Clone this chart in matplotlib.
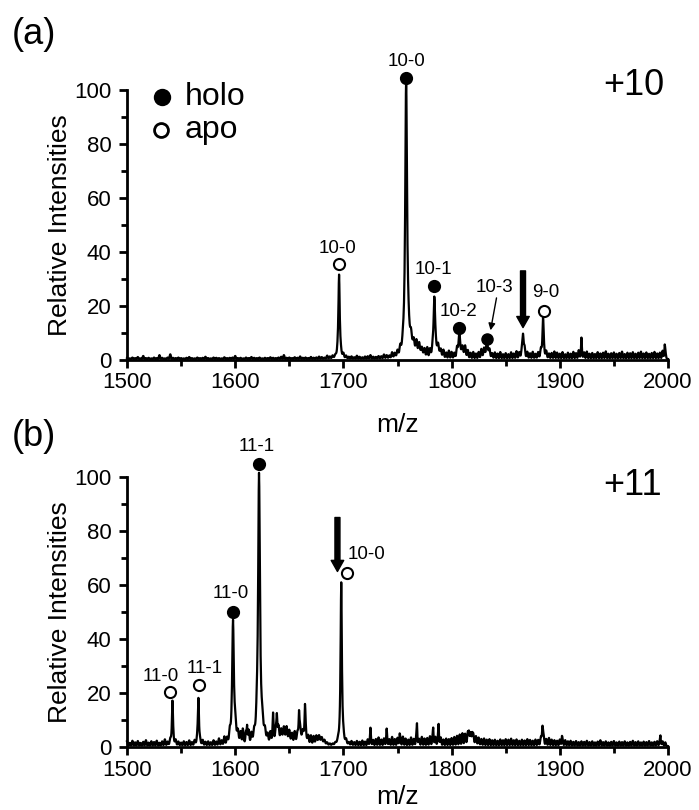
import numpy as np
import matplotlib
matplotlib.use("Agg")
import matplotlib.pyplot as plt
from matplotlib.ticker import MultipleLocator

plt.rcParams['font.family'] = ['Liberation Sans', 'DejaVu Sans']

# ---------------- data ----------------
# panel (a): +10 charge state
a_peak_mz = [1696.0, 1758.0, 1784.0, 1807.0, 1833.0, 1866.0, 1884.5, 1920.0, 1997.0]
a_peak_int = [31.0, 100.0, 21.0, 7.0, 3.0, 9.0, 14.0, 6.0, 4.0]
a_peak_hw = [0.7, 1.0, 0.8, 0.9, 1.0, 0.8, 0.7, 0.4, 0.4]

# broad features under the main +10 peaks
a_hump_mz = [1762.0, 1770.0, 1787.0, 1810.0, 1832.0]
a_hump_int = [4.0, 2.5, 2.5, 2.0, 1.5]
a_hump_sd = [3.0, 4.0, 3.0, 3.0, 3.0]

# baseline noise heights on a 2.5 m/z grid starting at 1500
a_noise = [
    0.5, 0.3, 0.6, 0.4, 0.8, 0.3, 1.2, 0.4, 0.5, 0.3, 0.6, 0.4, 1.5, 0.5, 0.3, 0.6, 1.8, 0.5, 0.4, 0.6,
    0.4, 0.3, 0.5, 0.8, 0.4, 0.3, 0.6, 0.4, 0.5, 0.9, 0.4, 0.3, 0.6, 0.5, 0.4, 0.3, 0.7, 0.4, 0.5, 0.6,
    1.2, 0.4, 0.5, 0.3, 0.6, 0.4, 0.8, 0.5, 0.4, 0.6, 0.3, 0.5, 0.4, 0.7, 0.5, 0.4, 0.6, 0.9, 1.5, 0.5,
    0.6, 0.4, 0.7, 0.5, 1.0, 0.5, 0.6, 0.4, 0.8, 0.5, 0.6, 0.9, 0.7, 0.5, 1.2, 0.8, 1.0, 0.7, 1.5, 1.2,
    1.5, 1.0, 0.7, 0.9, 0.6, 1.2, 0.8, 0.6, 0.9, 1.0, 1.4, 0.8, 0.7, 1.0, 0.9, 1.5, 1.2, 1.0, 2.0, 1.5,
    2.0, 2.5, 1.5, 3.0, 2.0, 2.5, 2.5, 3.5, 3.0, 2.0, 2.5, 3.5, 2.8, 2.0, 2.5, 2.5, 2.0, 2.8, 2.2, 3.0,
    2.5, 2.0, 3.2, 2.0, 2.5, 3.5, 2.8, 2.2, 2.6, 2.0, 2.5, 3.2, 2.8, 3.0, 2.5, 1.8, 2.4, 2.0, 2.6, 1.8,
    2.2, 1.8, 2.5, 2.0, 2.8, 2.2, 1.9, 3.0, 2.4, 2.0, 2.6, 1.8, 2.3, 2.8, 2.0, 2.5, 1.9, 2.2, 2.8, 2.4,
    2.0, 2.6, 1.8, 2.4, 2.0, 2.7, 2.2, 3.2, 2.0, 2.4, 2.8, 2.0, 2.3, 1.9, 2.6, 2.1, 2.4, 2.9, 2.0, 2.2,
    2.5, 2.0, 2.3, 2.8, 1.9, 2.4, 2.2, 2.6, 2.0, 2.4, 2.8, 2.1, 2.5, 2.0, 2.3, 2.7, 2.1, 2.4, 3.0, 2.2,
]

# panel (b): +11 charge state
b_peak_mz = [1542.0, 1566.0, 1598.0, 1622.0, 1698.0, 1607.0, 1611.0, 1635.0, 1638.5, 1659.0, 1664.5,
             1725.0, 1740.0, 1752.0, 1768.0, 1783.0, 1788.0, 1816.0, 1819.0, 1884.0, 1902.0, 1993.0]
b_peak_int = [16.0, 17.5, 43.0, 98.0, 60.0, 3.5, 6.0, 8.0, 9.0, 10.0, 11.0,
              4.0, 3.5, 3.0, 6.5, 5.0, 6.5, 4.0, 3.5, 7.0, 2.5, 3.0]
b_peak_hw = [0.6, 0.6, 0.9, 1.0, 0.7, 0.4, 0.4, 0.5, 0.5, 0.5, 0.5,
             0.4, 0.4, 0.4, 0.4, 0.4, 0.4, 0.5, 0.5, 0.6, 0.4, 0.4]

b_hump_mz = [1600.0, 1625.0, 1645.0, 1662.0, 1678.0, 1818.0]
b_hump_int = [2.5, 3.0, 3.5, 3.0, 2.0, 1.0]
b_hump_sd = [3.0, 3.0, 6.0, 4.0, 4.0, 5.0]

b_noise = [
    1.8, 1.2, 2.0, 1.4, 1.9, 1.2, 1.6, 2.2, 1.3, 1.8, 1.5, 2.0, 1.2, 1.7, 2.4, 1.4, 1.8, 1.3, 1.9, 1.5,
    1.2, 1.7, 1.4, 2.0, 1.3, 1.8, 1.5, 1.2, 1.9, 1.4, 1.6, 1.3, 2.0, 1.5, 2.6, 1.8, 3.0, 2.2, 3.2, 2.5,
    3.5, 2.8, 3.8, 3.0, 4.0, 4.5, 3.2, 2.5, 3.0, 2.0, 2.5, 2.2, 2.5, 3.8, 2.8, 3.5, 4.2, 3.0, 3.6, 4.0,
    3.4, 3.0, 3.8, 2.6, 3.2, 2.4, 3.0, 2.6, 3.2, 2.8, 2.4, 2.0, 1.5, 1.2, 0.8, 0.6, 0.5, 0.6, 0.8, 1.0,
    1.2, 1.5, 1.0, 1.6, 1.3, 1.8, 1.5, 2.0, 1.6, 2.4, 2.8, 2.2, 2.6, 3.2, 2.4, 2.8, 3.0, 2.5, 3.4, 2.6,
    3.0, 2.6, 3.5, 2.8, 2.4, 3.2, 2.6, 3.0, 2.5, 3.4, 2.8, 3.0, 3.6, 2.8, 3.2, 2.6, 3.0, 2.4, 2.8, 2.6,
    3.0, 3.4, 3.8, 4.2, 4.5, 4.0, 3.8, 3.5, 3.2, 3.0, 2.8, 2.5, 2.8, 2.4, 2.6, 2.2, 2.4, 2.0, 2.5, 2.2,
    2.6, 2.4, 2.8, 2.2, 2.5, 2.0, 2.4, 2.1, 2.6, 2.3, 2.0, 2.4, 2.2, 2.6, 2.8, 2.5, 3.0, 2.4, 2.2, 2.0,
    2.4, 2.0, 2.2, 1.8, 2.0, 1.6, 1.9, 1.5, 1.8, 1.6, 2.0, 1.5, 1.8, 1.4, 1.7, 2.2, 1.5, 1.8, 1.4, 1.6,
    1.9, 1.4, 1.7, 1.5, 1.8, 1.4, 1.6, 2.0, 1.5, 1.8, 1.4, 1.7, 1.5, 1.9, 1.4, 1.6, 1.8, 1.5, 1.7, 1.4,
]

# peak assignments: label, marker m/z, marker intensity, label m/z, label baseline, state
a_marks = [("10-0", 1696.0, 35.5, 1695.0, 39.8, "apo"),
           ("10-0", 1758.0, 104.5, 1758.0, 108.8, "holo"),
           ("10-1", 1784.0, 27.4, 1783.0, 31.8, "holo"),
           ("10-2", 1807.0, 12.0, 1806.0, 16.3, "holo"),
           ("9-0", 1885.5, 18.3, 1887.0, 23.4, "apo")]
b_marks = [("11-0", 1539.5, 20.4, 1531.0, 24.4, "apo"),
           ("11-1", 1566.5, 23.0, 1572.0, 27.4, "apo"),
           ("11-0", 1598.0, 50.0, 1596.0, 55.0, "holo"),
           ("11-1", 1622.0, 105.0, 1620.0, 109.7, "holo")]

x_ticks = [1500, 1600, 1700, 1800, 1900, 2000]
y_ticks = [0, 20, 40, 60, 80, 100]


def build_trace(mz, peaks, widths, heights, humps, hump_sd, hump_int, noise):
    y = np.full_like(mz, 0.3)
    grid = 1500.0 + 2.5 * np.arange(len(noise))
    for c, h in zip(grid, noise):
        y += h * np.exp(-0.5 * ((mz - c) / 0.55) ** 2)
    for c, h, s in zip(humps, hump_int, hump_sd):
        y += h * np.exp(-0.5 * ((mz - c) / s) ** 2)
    for c, h, w in zip(peaks, heights, widths):
        y += h / (1.0 + ((mz - c) / w) ** 2)
    return y


mz = np.arange(1500.0, 2000.0001, 0.25)
a_trace = build_trace(mz, a_peak_mz, a_peak_hw, a_peak_int, a_hump_mz, a_hump_sd, a_hump_int, a_noise)
b_trace = build_trace(mz, b_peak_mz, b_peak_hw, b_peak_int, b_hump_mz, b_hump_sd, b_hump_int, b_noise)

fig = plt.figure(figsize=(6.99, 8.1), dpi=100)
W, H = 699.0, 810.0
ax_a = fig.add_axes([127 / W, 1 - 360 / H, 541 / W, 270 / H])
ax_b = fig.add_axes([127 / W, 1 - 747 / H, 541 / W, 270 / H])


def style_axes(ax, xpad):
    ax.set_xlim(1500, 2000)
    ax.set_ylim(0, 100)
    for side in ("top", "right"):
        ax.spines[side].set_visible(False)
    for side in ("left", "bottom"):
        ax.spines[side].set_linewidth(2.0)
    ax.set_xticks(x_ticks)
    ax.set_yticks(y_ticks)
    ax.xaxis.set_minor_locator(MultipleLocator(50))
    ax.yaxis.set_minor_locator(MultipleLocator(10))
    ax.tick_params(which="major", direction="out", length=6, width=2.0, labelsize=16)
    ax.tick_params(axis="x", which="major", pad=3)
    ax.tick_params(axis="y", which="major", pad=5)
    ax.tick_params(which="minor", direction="out", length=4, width=2.0)
    ax.set_xlabel("m/z", fontsize=19, labelpad=xpad)
    ax.set_ylabel("Relative Intensities", fontsize=19, labelpad=2)


def draw_marks(ax, marks):
    for label, x, y, lx, ly, state in marks:
        face = "black" if state == "holo" else "white"
        ax.plot([x], [y], "o", ms=8, mfc=face, mec="black", mew=1.5, clip_on=False, zorder=5)
        ax.text(lx, ly, label, ha="center", va="baseline", fontsize=13.5)


# ---------------- panel (a) ----------------
ax_a.plot(mz, a_trace, color="black", lw=1.6, clip_on=False)
style_axes(ax_a, 14)
draw_marks(ax_a, a_marks)
ax_a.plot([1833.0], [7.8], "o", ms=8, mfc="black", mec="black", clip_on=False, zorder=5)
ax_a.text(1840.0, 25.3, "10-3", ha="center", va="baseline", fontsize=13.5)
ax_a.annotate("", xy=(1836.0, 11.0), xytext=(1841.5, 23.0),
              arrowprops=dict(arrowstyle="-|>", lw=1.0, color="black", mutation_scale=10,
                              shrinkA=0, shrinkB=0))
ax_a.annotate("", xy=(1866.0, 12.0), xytext=(1866.0, 33.0),
              arrowprops=dict(width=3.6, headwidth=9, headlength=8, color="black", shrink=0))
ax_a.plot([1532.0], [97.4], "o", ms=11, mfc="black", mec="black", mew=1.5, clip_on=False)
ax_a.plot([1531.0], [85.2], "o", ms=10, mfc="white", mec="black", mew=2.0, clip_on=False)
ax_a.text(1553.0, 97.4, "holo", fontsize=23, va="center", ha="left")
ax_a.text(1553.0, 85.2, "apo", fontsize=23, va="center", ha="left")
ax_a.text(1940.0, 98.0, "+10", fontsize=26, va="baseline", ha="left")

# ---------------- panel (b) ----------------
ax_b.plot(mz, b_trace, color="black", lw=1.6, clip_on=False)
style_axes(ax_b, 3)
draw_marks(ax_b, b_marks)
ax_b.plot([1703.0], [64.4], "o", ms=8, mfc="white", mec="black", mew=1.5, clip_on=False, zorder=5)
ax_b.text(1703.5, 69.6, "10-0", ha="left", va="baseline", fontsize=13.5)
ax_b.annotate("", xy=(1694.5, 65.0), xytext=(1694.5, 85.0),
              arrowprops=dict(width=3.6, headwidth=9, headlength=8, color="black", shrink=0))
ax_b.text(1940.0, 93.3, "+11", fontsize=26, va="baseline", ha="left")

fig.text(12 / W, 1 - 35 / H, "(a)", fontsize=26, va="center", ha="left")
fig.text(12 / W, 1 - 436 / H, "(b)", fontsize=26, va="center", ha="left")

fig.savefig("out.png", dpi=100)
